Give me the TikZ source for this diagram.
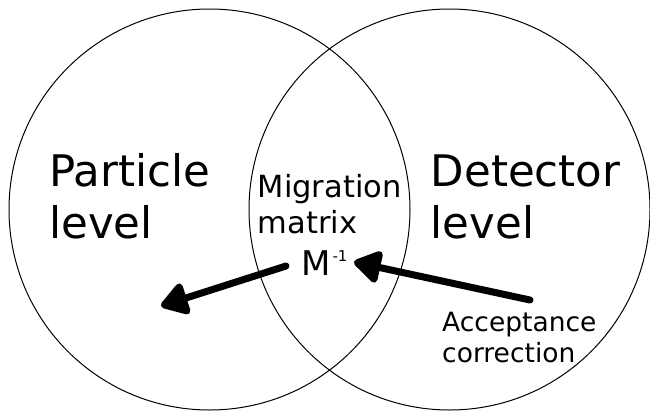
\documentclass[tikz,border=0pt]{standalone}
\usepackage{fontspec}
\setmainfont{DejaVu Sans}
\usetikzlibrary{arrows.meta}
\begin{document}
\begin{tikzpicture}[x=1pt,y=-1pt,
  venn/.style={draw, circle, line width=1pt, minimum size=401pt, inner sep=0pt},
  bigtext/.style={anchor=base west, inner sep=0pt, align=left, font=\fontsize{43.5}{51.6}\selectfont},
  midtext/.style={anchor=base west, inner sep=0pt, align=left, font=\fontsize{30.5}{36}\selectfont},
  smalltext/.style={anchor=base west, inner sep=0pt, align=left, font=\fontsize{26.5}{30.5}\selectfont},
  fat/.style={line width=7pt, line cap=round, -{Triangle[length=30pt,width=36pt,round]}}]
\useasboundingbox (0,0) rectangle (650,410);
\node[venn] (left) at (209.5,209.5) {};
\node[venn] (right) at (449.5,209.5) {};
\node[bigtext] (particle) at (49,238.3) {Particle\\level};
\node[bigtext] (detector) at (430.7,238.3) {Detector\\level};
\node[midtext] (migration) at (257.6,233) {Migration\\matrix};
\node[anchor=base west, inner sep=0pt, font=\fontsize{34}{40}\selectfont] (minv) at (301,275) {M\hspace{2pt}\raisebox{14pt}{\fontsize{15}{18}\selectfont -1}};
\node[smalltext] (accept) at (442,362) {Acceptance\\correction};
\coordinate (lstart) at (286,266);
\coordinate (ltip) at (161,306);
\coordinate (rstart) at (530,300);
\coordinate (rtip) at (354,262);
\draw[fat] (lstart) -- (ltip);
\draw[fat] (rstart) -- (rtip);
\end{tikzpicture}
\end{document}
